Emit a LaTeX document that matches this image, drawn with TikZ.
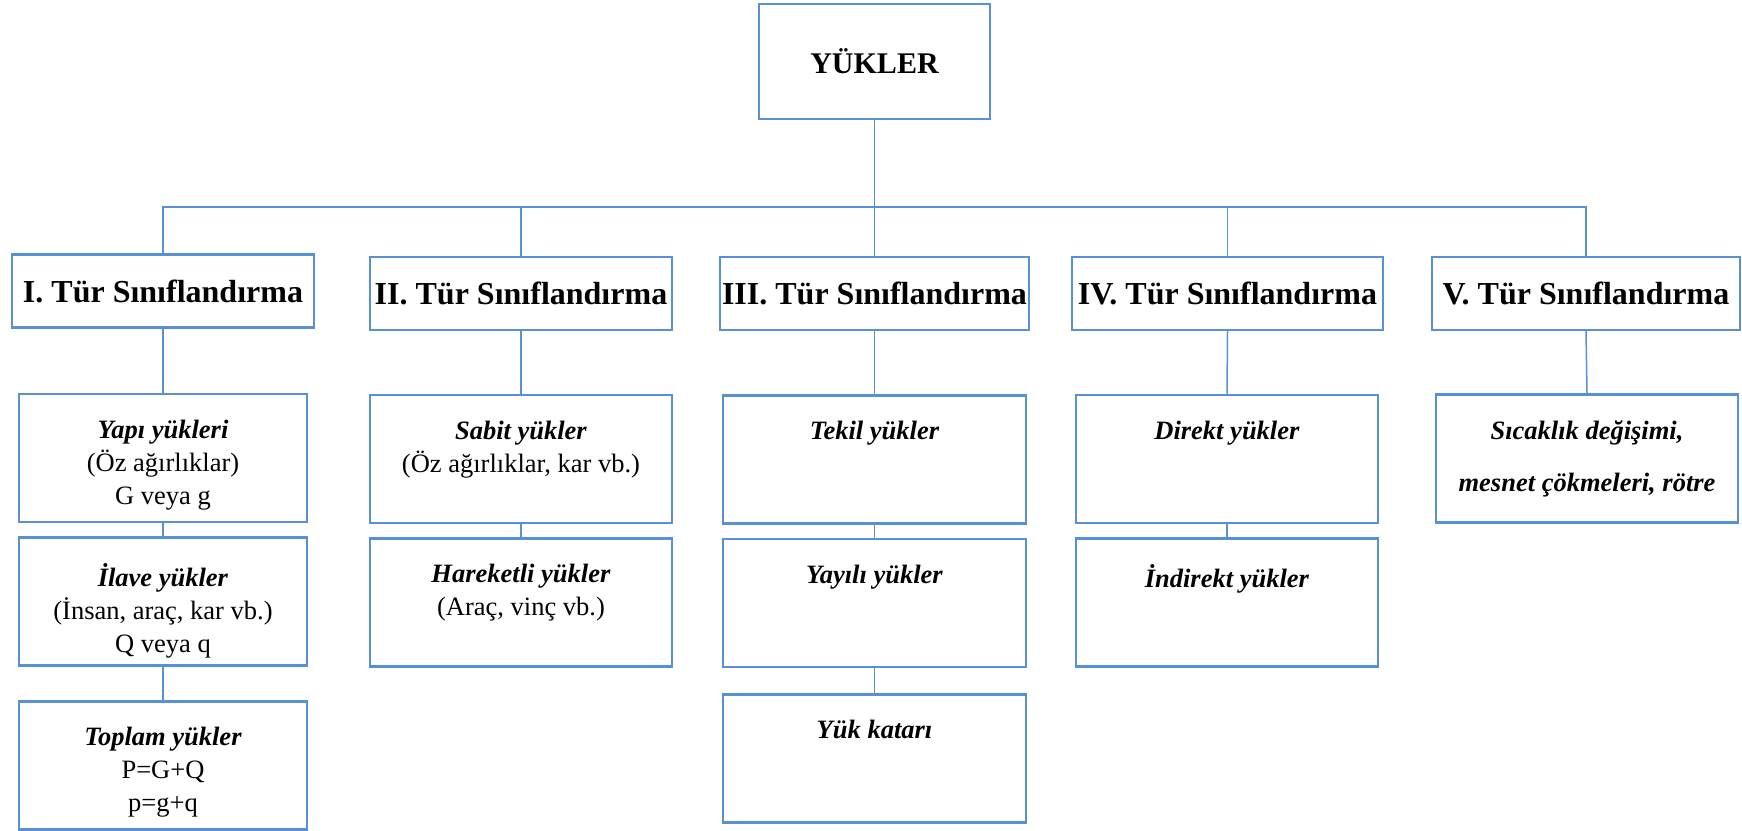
\documentclass[tikz,border=0pt]{standalone}
\usepackage{fontspec}
\setmainfont{Liberation Serif}
\usepackage{tikz}
\usetikzlibrary{positioning}
\definecolor{boxblue}{RGB}{88,144,214}
\newcommand{\loadname}[1]{\textbf{\textit{#1}}}
\tikzset{
  linkline/.style={draw=boxblue, line width=1.5pt},
  rootbox/.style={draw=boxblue, line width=2.2pt, fill=white, minimum width=231pt, minimum height=115pt, inner sep=0pt, font=\fontsize{30}{36}\selectfont\bfseries},
  catbox/.style={draw=boxblue, line width=2.2pt, fill=white, minimum width=302pt, minimum height=73pt, inner sep=0pt, font=\fontsize{32}{38}\selectfont\bfseries},
  loadbox/.style={draw=boxblue, line width=2.2pt, fill=white, minimum width=302pt, minimum height=128pt, inner sep=0pt},
  loadtext/.style={anchor=north, yshift=-27pt, inner sep=0pt, align=center, font=\fontsize{26.5}{33}\selectfont}
}
\begin{document}
\begin{tikzpicture}[x=1pt, y=-1pt]
  \useasboundingbox (0,0) rectangle (1742,830);
  \node[rootbox] (root) at (874.5,61.5) {YÜKLER};
  \coordinate (bar) at (874.5,207);

  \node[catbox] (cat1) at (163,291) {I. Tür Sınıflandırma};
  \node[catbox] (cat2) at (521,293.5) {II. Tür Sınıflandırma};
  \node[catbox, minimum width=309pt] (cat3) at (874.5,293.5) {III. Tür Sınıflandırma};
  \node[catbox, minimum width=311pt] (cat4) at (1227.5,293.5) {IV. Tür Sınıflandırma};
  \node[catbox, minimum width=308pt] (cat5) at (1586,293.5) {V. Tür Sınıflandırma};

  \node[loadbox, minimum width=288pt, label={[loadtext]north:{\loadname{Yapı yükleri}\\(Öz ağırlıklar)\\G veya g}}] (yapi) at (163,458) {};
  \node[loadbox, minimum width=288pt, label={[loadtext]north:{\loadname{İlave yükler}\\(İnsan, araç, kar vb.)\\Q veya q}}] (ilave) at (163,601.5) {};
  \node[loadbox, minimum width=288pt, label={[loadtext]north:{\loadname{Toplam yükler}\\P=G+Q\\p=g+q}}] (toplam) at (163,765.5) {};

  \node[loadbox, label={[loadtext]north:{\loadname{Sabit yükler}\\(Öz ağırlıklar, kar vb.)}}] (sabit) at (521,459) {};
  \node[loadbox, label={[loadtext]north:{\loadname{Hareketli yükler}\\(Araç, vinç vb.)}}] (hareketli) at (521,602.5) {};

  \node[loadbox, minimum width=303pt, label={[loadtext]north:{\loadname{Tekil yükler}}}] (tekil) at (874.5,459.5) {};
  \node[loadbox, minimum width=303pt, label={[loadtext]north:{\loadname{Yayılı yükler}}}] (yayili) at (874.5,603) {};
  \node[loadbox, minimum width=303pt, label={[loadtext]north:{\loadname{Yük katarı}}}] (katar) at (874.5,758.5) {};

  \node[loadbox, label={[loadtext]north:{\loadname{Direkt yükler}}}] (direkt) at (1227,459) {};
  \node[loadbox, label={[loadtext]north:{\loadname{İndirekt yükler}}}] (indirekt) at (1227,602.5) {};

  \node[loadbox, label={[loadtext]north:{\loadname{Sıcaklık değişimi,}\\[19pt]\loadname{mesnet çökmeleri, rötre}}}] (sicaklik) at (1587,458.5) {};

  \draw[linkline] (root.south) -- (bar);
  \draw[linkline] (cat1.north) |- (bar) -| (cat5.north);
  \draw[linkline] (cat2.north) -- (cat2.north |- bar);
  \draw[linkline] (cat3.north) -- (bar);
  \draw[linkline] (cat4.north) -- (cat4.north |- bar);

  \draw[linkline] (cat1.south) -- (yapi.north);
  \draw[linkline] (yapi.south) -- (ilave.north);
  \draw[linkline] (ilave.south) -- (toplam.north);
  \draw[linkline] (cat2.south) -- (sabit.north);
  \draw[linkline] (sabit.south) -- (hareketli.north);
  \draw[linkline] (cat3.south) -- (tekil.north);
  \draw[linkline] (tekil.south) -- (yayili.north);
  \draw[linkline] (yayili.south) -- (katar.north);
  \draw[linkline] (cat4.south) -- (direkt.north);
  \draw[linkline] (direkt.south) -- (indirekt.north);
  \draw[linkline] (cat5.south) -- (sicaklik.north);
\end{tikzpicture}
\end{document}
